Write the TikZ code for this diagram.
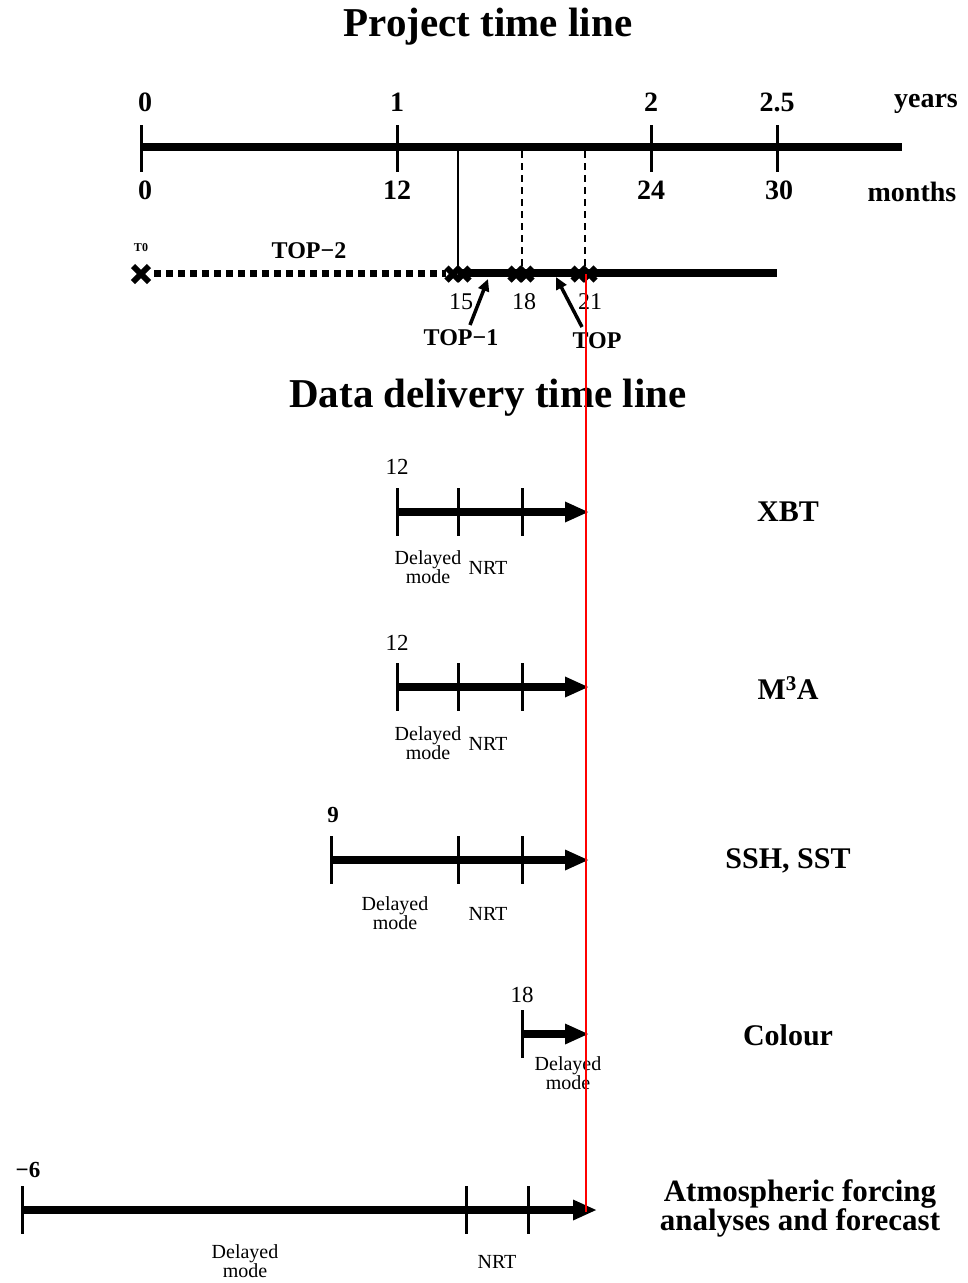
\documentclass[tikz,border=0pt]{standalone}
\usepackage{fontspec}
\setmainfont{Liberation Serif}
\usetikzlibrary{arrows.meta}
\newcommand\mycross[3]{%
  \draw[crossline] (#1-#3,#2-#3) -- (#1+#3,#2+#3) (#1-#3,#2+#3) -- (#1+#3,#2-#3);}
\begin{document}
\begin{tikzpicture}[x=1pt,y=-1pt,
  every node/.style={inner sep=0pt},
  ttl/.style={font=\fontsize{41}{46}\selectfont\bfseries},
  axlab/.style={font=\fontsize{28}{30}\selectfont\bfseries},
  mid/.style={font=\fontsize{24}{26}\selectfont},
  midb/.style={font=\fontsize{24}{26}\selectfont\bfseries},
  tiny/.style={font=\fontsize{12}{13}\selectfont\bfseries},
  small/.style={font=\fontsize{20}{19}\selectfont, align=center},
  num/.style={font=\fontsize{23}{24}\selectfont},
  numb/.style={font=\fontsize{23}{24}\selectfont\bfseries},
  rowlab/.style={font=\fontsize{30}{30}\selectfont\bfseries, align=center},
  axis/.style={line width=8pt},
  tickline/.style={line width=3pt},
  vline/.style={line width=2.5pt},
  dline/.style={line width=2.5pt, dash pattern=on 7pt off 5pt},
  dotline/.style={line width=7pt, dash pattern=on 7pt off 5pt},
  crossline/.style={line width=6pt},
  arr/.style={line width=8pt, -{Triangle[length=24pt,width=19pt]}},
  ptr/.style={line width=3.5pt, -{Triangle[length=12pt,width=11pt]}},
  redline/.style={red, line width=1.5pt}
]
\useasboundingbox (0,0) rectangle (967,1283);

% ---------- Project time line ----------
\node[ttl] (title1) at (488,27) {Project time line};

\coordinate (axL) at (141,147);
\coordinate (axR) at (902,147);
\draw[axis] (axL) -- (axR);
\foreach \x in {141,397,651,777} \draw[tickline] (\x,125) -- (\x,172);

\node[axlab] (y0) at (145,102) {0};
\node[axlab] (y1) at (397,102) {1};
\node[axlab] (y2) at (651,102) {2};
\node[axlab] (y25) at (777,102) {2.5};
\node[axlab] (yrs) at (926,104) {years};
\node[axlab] (m0) at (145,190) {0};
\node[axlab] (m12) at (397,190) {12};
\node[axlab] (m24) at (651,190) {24};
\node[axlab] (m30) at (779,190) {30};
\node[axlab] (mth) at (912,192) {months};

% second line
\coordinate (p0) at (141,273);
\coordinate (p15) at (458,273);
\coordinate (p18) at (522,273);
\coordinate (p21) at (585,273);
\coordinate (p30) at (777,273);
\coordinate (q15) at (458,147);
\coordinate (q18) at (522,151);
\coordinate (q21) at (585,151);
\draw[dotline] (154,273) -- (446,273);
\draw[axis] (p15) -- (p30);
\draw[vline] (q15) -- (p15);
\draw[dline] (q18) -- (p18);
\draw[dline] (q21) -- (p21);
\mycross{141}{274}{8}
\mycross{453}{274}{6.5}
\mycross{463}{274}{6.5}
\mycross{516}{274}{6.5}
\mycross{526}{274}{6.5}
\mycross{579}{274}{6.5}
\mycross{589}{274}{6.5}

\node[tiny] (t0) at (141,248) {T0};
\node[midb] (top2) at (309,251) {TOP−2};
\node[mid] (n15) at (461,302) {15};
\node[mid] (n18) at (524,302) {18};
\node[mid] (n21) at (590,302) {21};
\node[midb] (top1) at (461,338) {TOP−1};
\node[midb] (top) at (597,341) {TOP};
\coordinate (top1tail) at (470,325);
\coordinate (top1tip) at (488,279);
\coordinate (toptail) at (582,327);
\coordinate (toptip) at (556,277);
\draw[ptr] (top1tail) -- (top1tip);
\draw[ptr] (toptail) -- (toptip);

% ---------- Data delivery time line ----------
\node[ttl] (title2) at (488,398) {Data delivery time line};

% XBT
\coordinate (xs) at (397,512); \coordinate (xe) at (589,512);
\draw[arr] (xs) -- (xe);
\foreach \x in {397,458,522} \draw[tickline] (\x,488) -- (\x,536);
\node[num] (x12) at (397,467) {12};
\node[small] (xdm) at (428,567) {Delayed\\mode};
\node[small] (xnrt) at (488,568) {NRT};
\node[rowlab] (xbt) at (788,512) {XBT};

% M3A
\coordinate (ms) at (397,687); \coordinate (me) at (589,687);
\draw[arr] (ms) -- (me);
\foreach \x in {397,458,522} \draw[tickline] (\x,663) -- (\x,711);
\node[num] (m3n) at (397,643) {12};
\node[small] (mdm) at (428,743) {Delayed\\mode};
\node[small] (mnrt) at (488,744) {NRT};
\node[rowlab] (m3a) at (788,688) {M\textsuperscript{3}A};

% SSH, SST
\coordinate (ss) at (331,860); \coordinate (se) at (589,860);
\draw[arr] (ss) -- (se);
\foreach \x in {331,458,522} \draw[tickline] (\x,836) -- (\x,884);
\node[numb] (s9) at (333,815) {9};
\node[small] (sdm) at (395,913) {Delayed\\mode};
\node[small] (snrt) at (488,914) {NRT};
\node[rowlab] (ssh) at (788,861) {SSH, SST};

% Colour
\coordinate (cs) at (522,1034); \coordinate (ce) at (589,1034);
\draw[arr] (cs) -- (ce);
\draw[tickline] (522,1010) -- (522,1058);
\node[num] (c18) at (522,995) {18};
\node[small] (cdm) at (568,1073) {Delayed\\mode};
\node[rowlab] (col) at (788,1035) {Colour};

% Atmospheric
\coordinate (as) at (22,1210); \coordinate (ae) at (597,1210);
\draw[arr] (as) -- (ae);
\foreach \x in {22,466,528} \draw[tickline] (\x,1186) -- (\x,1234);
\node[numb] (a6) at (28,1170) {−6};
\node[small] (adm) at (245,1261) {Delayed\\mode};
\node[small] (anrt) at (497,1262) {NRT};
\node[rowlab, font=\fontsize{31}{29}\selectfont\bfseries] (atm) at (800,1208) {Atmospheric forcing\\analyses and forecast};

% red line
\coordinate (rtop) at (586,274);
\coordinate (rbot) at (586,1212);
\draw[redline] (rtop) -- (rbot);
\end{tikzpicture}
\end{document}
